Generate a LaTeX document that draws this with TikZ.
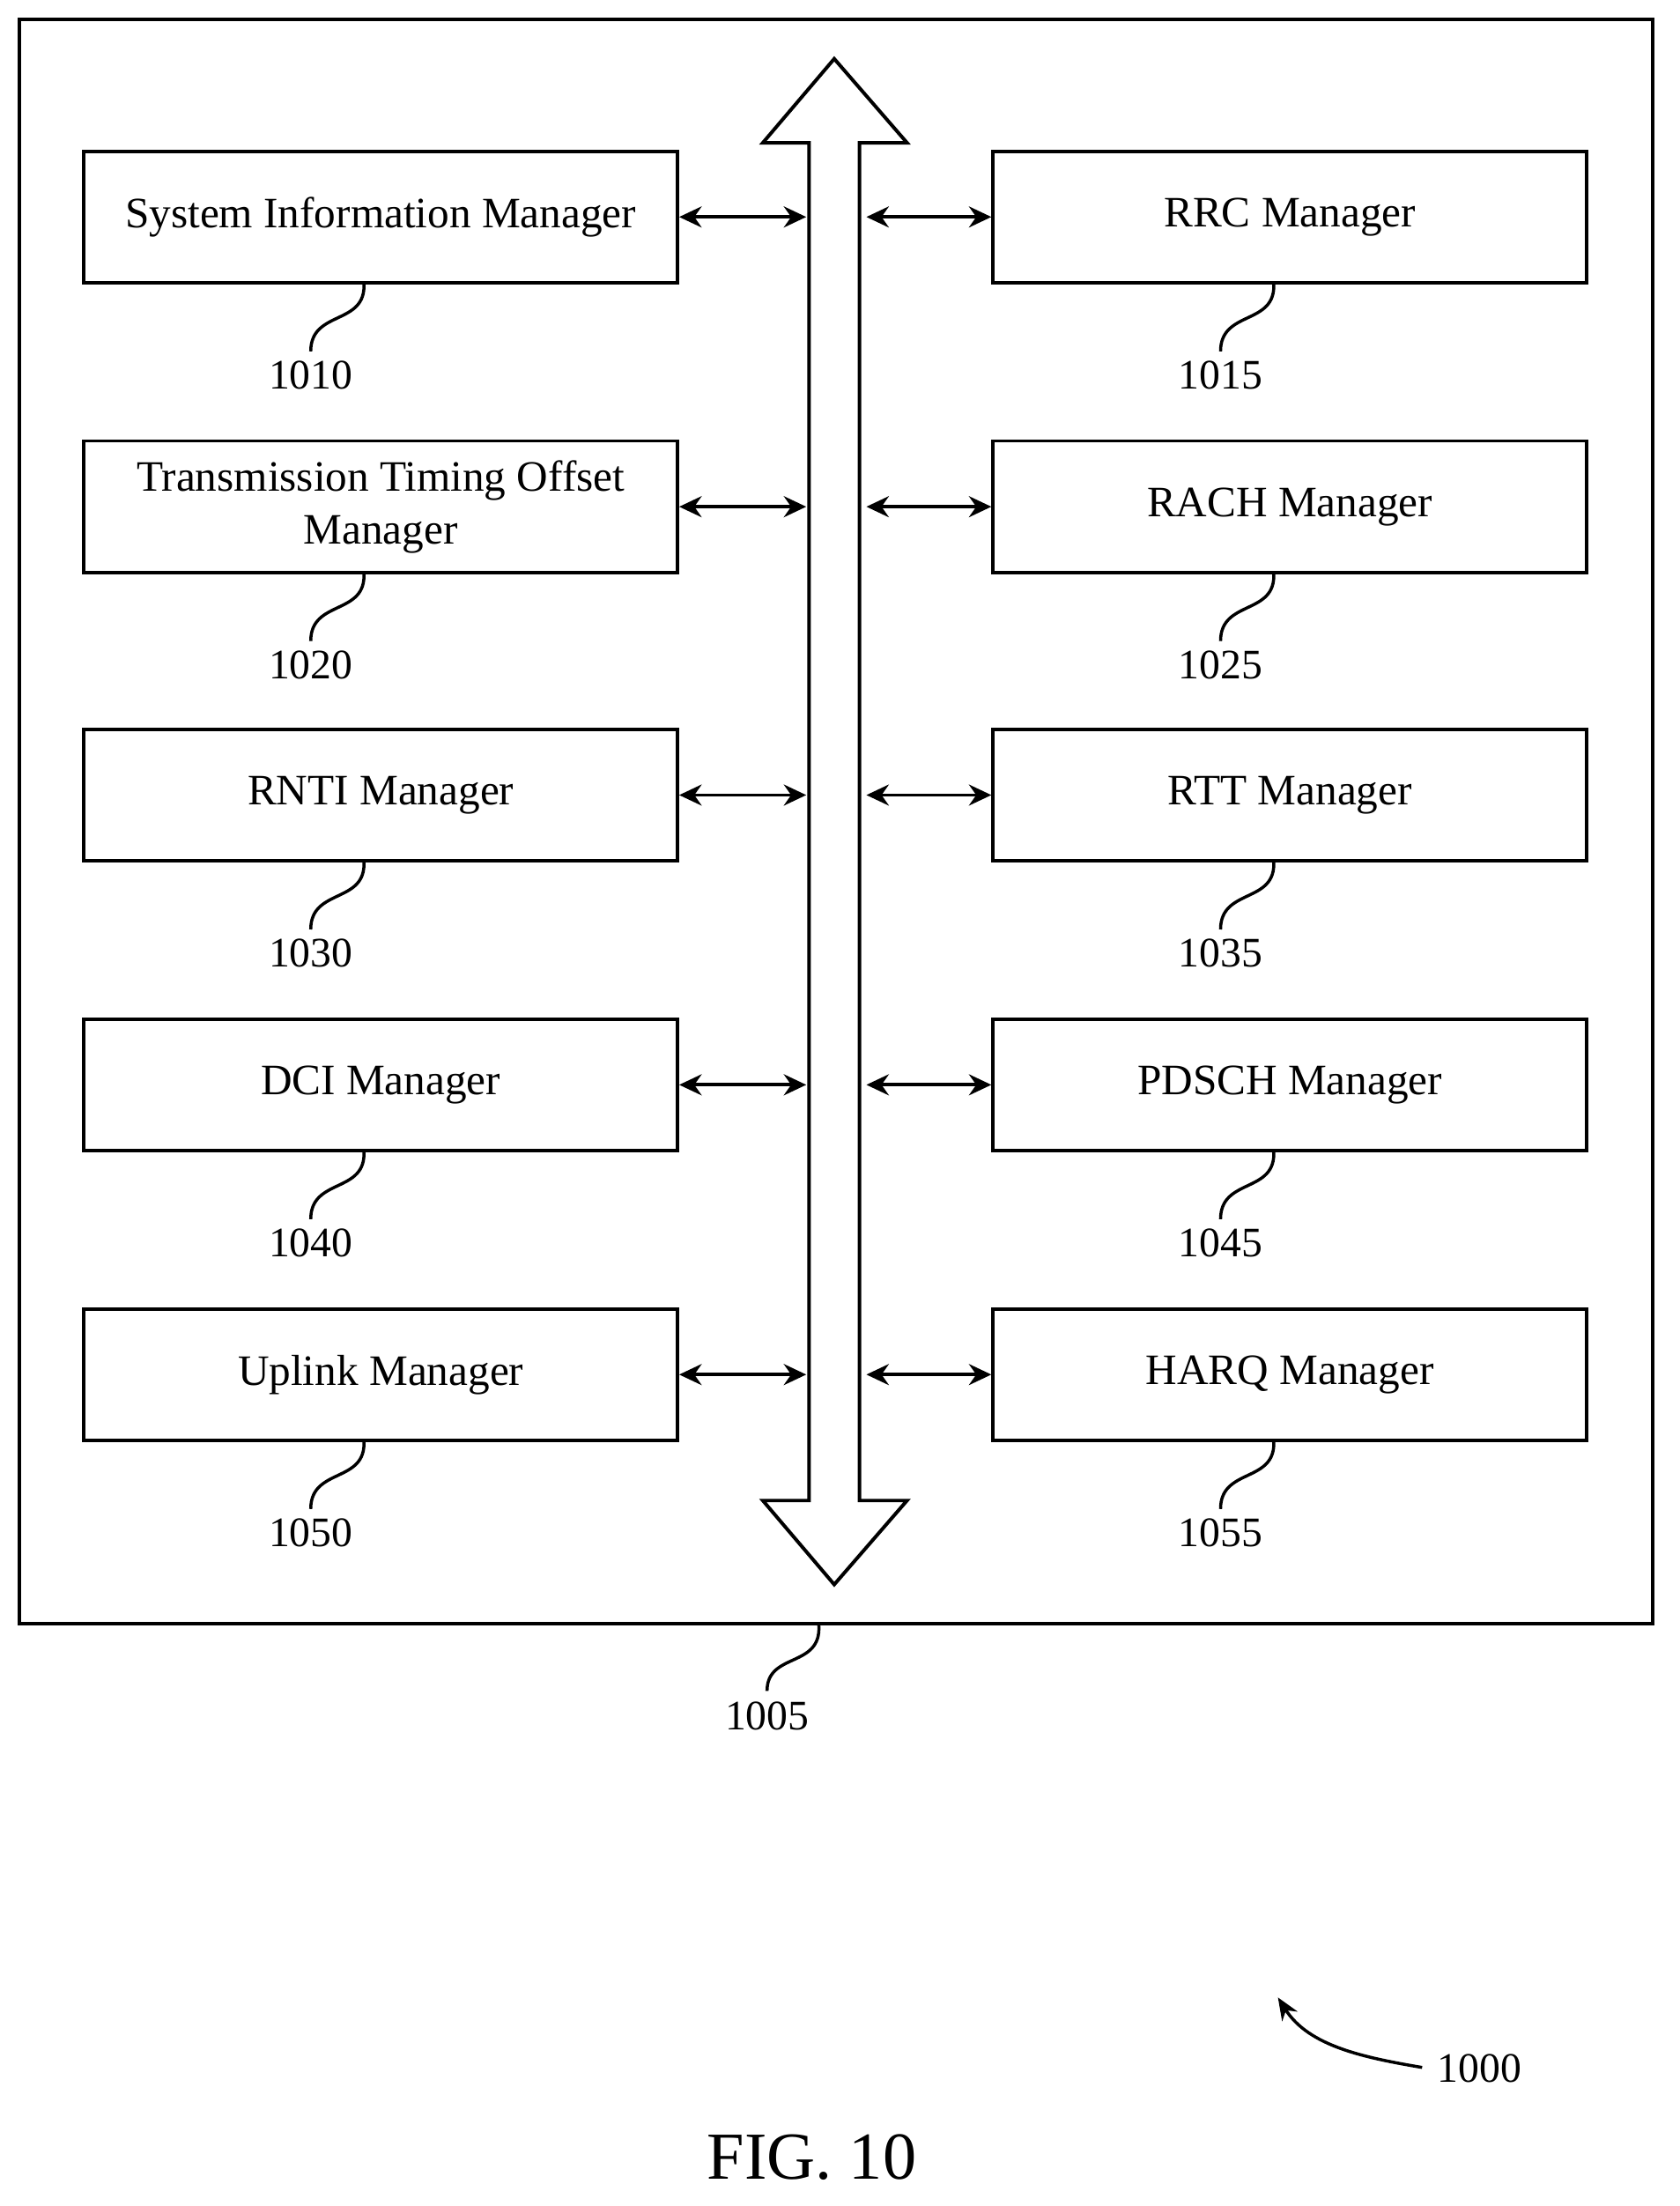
\documentclass[tikz,border=0pt]{standalone}
\usepackage{fontspec}
\setmainfont{Liberation Serif}
\usetikzlibrary{arrows.meta}
\begin{document}
\begin{tikzpicture}[x=1pt,y=-1pt,
 box/.style={draw,line width=2.5pt,minimum width=424pt,minimum height=94pt,align=center,font=\fontsize{31}{38}\selectfont,inner sep=0pt},
 lab/.style={font=\fontsize{30}{34}\selectfont},
 conn/.style={line width=2.4pt,{Stealth[length=16pt,width=15pt]}-{Stealth[length=16pt,width=15pt]}},
 sq/.style={line width=2.2pt}]
\useasboundingbox (0,0) rectangle (1200,1576);
\draw[line width=2.5pt] (14,14) rectangle (1181,1160);
\draw[line width=2.5pt] (596,42) -- (648,102) -- (614,102) -- (614,1072) -- (648,1072) -- (596,1132) -- (545,1072) -- (578,1072) -- (578,102) -- (545,102) -- cycle;
\foreach \y/\lt/\rt/\ln/\rn [count=\i] in {155/System Information Manager/RRC Manager/1010/1015,
 362/{Transmission Timing Offset\\Manager}/RACH Manager/1020/1025,
 568/RNTI Manager/RTT Manager/1030/1035,
 775/DCI Manager/PDSCH Manager/1040/1045,
 982/Uplink Manager/HARQ Manager/1050/1055}{
 \node[box] (L\i) at (272,\y) {\lt};
 \node[box] (R\i) at (921.5,\y) {\rt};
 \coordinate (bl\i) at (576,\y); \coordinate (br\i) at (619,\y);
 \draw[conn] (L\i.east) -- (bl\i);
 \draw[conn] (br\i) -- (R\i.west);
 \node[lab] (nl\i) at (222,\y+113) {\ln};
 \node[lab] (nr\i) at (872,\y+113) {\rn};
 \draw[sq] (260,\y+47) .. controls (262,\y+78) and (222,\y+66) .. (222,\y+96);
 \draw[sq] (910,\y+47) .. controls (912,\y+78) and (872,\y+66) .. (872,\y+96);
}
\node[lab] (n1005) at (548,1226) {1005};
\draw[sq] (585,1161) .. controls (587,1192) and (548,1180) .. (548,1208);
\node[lab] (n1000) at (1057,1478) {1000};
\draw[sq,-{Stealth[length=16pt,width=13pt]}] (1016,1477) .. controls (975,1470) and (935,1462) .. (913,1427);
\node[font=\fontsize{48}{54}\selectfont] (fig) at (580,1541) {FIG. 10};
\end{tikzpicture}
\end{document}
